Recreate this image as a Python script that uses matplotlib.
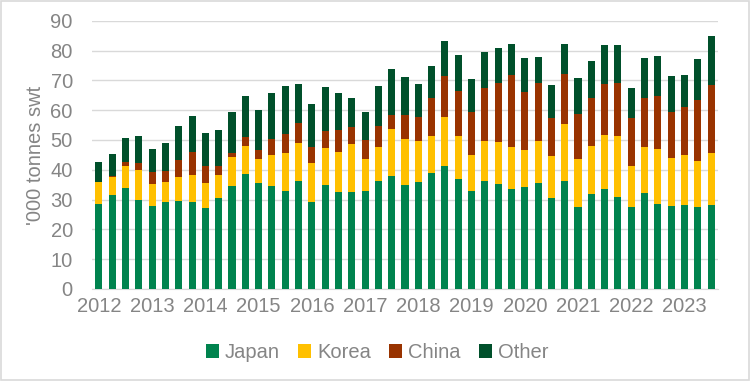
import numpy as np
import matplotlib
matplotlib.use("Agg")
import matplotlib.pyplot as plt
from matplotlib.patches import Rectangle

plt.rcParams["font.family"] = ["Liberation Sans", "DejaVu Sans"]

# quarterly exports, 2012 Q1 .. 2023 Q3 ('000 tonnes swt)
years = [str(y) for y in range(2012, 2024)]
japan = [28.5, 31.6, 33.9, 29.8, 27.9, 29.3, 29.6, 29.0, 27.1, 30.5, 34.5, 38.6,
         35.4, 34.6, 33.0, 36.1, 29.0, 34.9, 32.4, 32.4, 33.0, 36.1, 37.8, 35.0,
         35.8, 38.9, 41.1, 36.9, 33.0, 36.1, 35.2, 33.4, 34.1, 35.4, 30.4, 36.3,
         27.6, 31.8, 33.5, 30.7, 27.6, 32.1, 28.5, 27.9, 28.1, 27.4, 28.3]
korea = [7.3, 6.0, 7.5, 10.2, 7.3, 6.7, 8.0, 9.3, 8.3, 7.8, 9.7, 9.3,
         8.2, 10.5, 12.6, 12.9, 13.3, 12.4, 13.5, 16.3, 10.7, 11.4, 15.9, 15.3,
         14.0, 12.6, 16.5, 14.6, 12.1, 13.7, 14.0, 14.1, 12.6, 14.4, 14.3, 19.1,
         16.0, 16.3, 18.3, 20.8, 13.8, 15.4, 18.5, 16.0, 17.0, 15.6, 17.3]
china = [0.2, 0.4, 1.1, 2.2, 3.9, 3.5, 5.6, 7.6, 6.0, 2.8, 1.3, 3.0,
         3.1, 5.2, 6.4, 6.6, 5.2, 5.7, 7.4, 5.6, 6.2, 7.3, 4.8, 8.2,
         7.8, 12.6, 13.8, 14.9, 14.3, 17.7, 20.0, 24.2, 19.4, 19.4, 12.7, 16.8,
         15.3, 16.0, 17.1, 17.7, 16.0, 16.6, 17.7, 15.5, 15.9, 20.3, 23.0]
other = [6.7, 7.3, 8.2, 9.0, 8.0, 9.5, 11.6, 12.1, 11.0, 12.4, 13.9, 14.0,
         13.5, 15.6, 16.0, 13.3, 14.7, 14.7, 12.6, 9.8, 9.5, 13.2, 15.2, 12.6,
         11.3, 10.7, 11.8, 12.1, 11.2, 12.1, 11.7, 10.6, 11.5, 8.7, 11.0, 10.2,
         12.0, 12.6, 12.9, 12.6, 10.1, 13.5, 13.4, 12.0, 10.7, 13.9, 16.3]

series = [("Japan", japan, "#00834E"), ("Korea", korea, "#FFC000"),
          ("China", china, "#993300"), ("Other", other, "#00502B")]

fig = plt.figure(figsize=(7.5, 3.81), dpi=100)
ax = fig.add_axes([0.123, 0.242, 0.834, 0.703])

x = np.arange(len(japan))
bottom = np.zeros(len(japan))
for name, vals, col in series:
    ax.bar(x, vals, width=0.53, bottom=bottom, color=col, label=name, zorder=3)
    bottom += np.array(vals)

grey = "#858585"
fs = 14.5
ax.set_xlim(-0.5, len(japan) - 0.5)
ax.set_ylim(0, 90)
ax.set_yticks(range(0, 91, 10))
ax.set_xticks(np.arange(0, len(japan), 4))
ax.set_xticklabels(years)
ax.tick_params(axis="both", length=0, labelsize=fs, colors=grey)
ax.tick_params(axis="y", pad=14)
ax.tick_params(axis="x", pad=6)
ax.yaxis.grid(True, color="#D9D9D9", linewidth=1, zorder=0)
for s in ["top", "right", "left"]:
    ax.spines[s].set_visible(False)
ax.spines["bottom"].set_color("#D9D9D9")
ax.set_ylabel("'000 tonnes swt", fontsize=fs, color=grey, labelpad=4)

fig.legend(loc="center", bbox_to_anchor=(0.503, 0.075), ncol=4, frameon=False,
           fontsize=fs, labelcolor=grey, handlelength=0.65, handleheight=0.65,
           handletextpad=0.3, columnspacing=0.9)

fig.patches.append(Rectangle((0.001, 0.002), 0.997, 0.995, transform=fig.transFigure,
                             fill=False, edgecolor="#D9D9D9", linewidth=1.2))

fig.savefig("out.png", dpi=100)
